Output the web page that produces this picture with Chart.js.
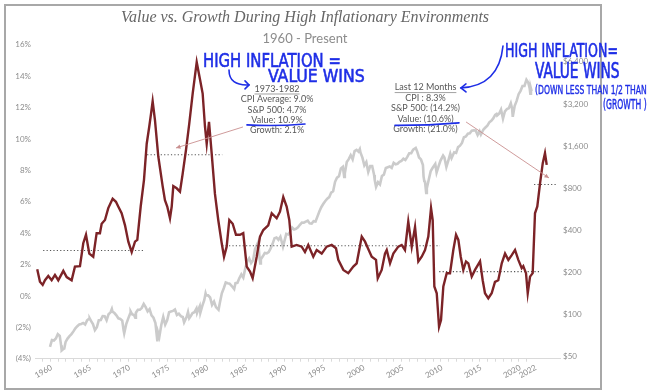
<!DOCTYPE html>
<html>
<head>
<meta charset="utf-8">
<script src="https://cdn.jsdelivr.net/npm/chart.js@4.4.1/dist/chart.umd.min.js"></script>
<style>
  html, body { margin: 0; padding: 0; background: #ffffff; }
  #wrap { position: relative; width: 647px; height: 392px; }
  #frame { position: absolute; left: 4px; top: 4px; width: 594px; height: 382px; border: 2px solid #a8a8a8; }
  canvas { position: absolute; left: 0; top: 0; }
</style>
</head>
<body>
<div id="wrap">
  <div id="frame"></div>
  <canvas id="c" width="647" height="392"></canvas>
</div>
<script>
// ---------------- DATA ----------------
// CPI year-over-year (%), left axis
const cpiYears = [
  1960.88,1961.21,1961.54,1961.82,1962.22,1962.63,1963.03,1963.43,1964.04,1964.45,
  1965.05,1965.45,1966.06,1966.46,1966.79,1967.19,1967.67,1968.08,1968.48,1968.69,
  1969.09,1969.49,1970.02,1970.42,1970.70,1971.11,1971.52,1971.92,1972.33,1972.73,
  1973.01,1973.42,1973.82,1974.15,1974.46,1974.67,1974.87,1975.15,1975.55,1976.08,
  1976.36,1976.64,1976.97,1977.18,1977.37,1977.78,1978.18,1978.51,1978.91,1979.31,
  1979.72,1980.21,1980.61,1980.93,1981.21,1981.42,1981.70,1982.02,1982.42,1982.82,
  1983.24,1983.52,1983.84,1984.16,1984.57,1984.97,1985.45,1985.85,1986.27,1986.67,
  1986.99,1987.48,1987.88,1988.28,1988.88,1989.30,1989.90,1990.30,1990.70,1991.11,
  1991.43,1991.72,1992.33,1992.93,1993.33,1993.73,1994.34,1994.75,1995.36,1995.96,
  1996.57,1997.09,1997.37,1997.98,1998.58,1999.19,1999.60,2000.21,2000.61,2000.88,
  2001.42,2001.94,2002.15,2002.63,2003.03,2003.24,2003.64,2004.04,2004.64,2005.05,
  2005.45,2005.85,2006.27,2006.67,2007.07,2007.48,2007.88,2008.28,2008.61,2008.81,
  2009.01,2009.30,2009.58,2009.82,2010.10,2010.51,2010.91,2011.31,2011.64,2011.92,
  2012.21,2012.52,2012.85,2013.13,2013.54,2013.94,2014.55,2014.87,2015.15,2015.55,
  2015.96,2016.36,2016.76,2017.18,2017.58,2017.98,2018.39,2018.79,2019.19,2019.60,
  2019.79,2020.12,2020.33,2020.61,2020.93,2021.21,2021.49,2021.82,2022.15,2022.42,
  2022.63
];
const cpiValues = [
  1.7,0.9,0.7,1.0,1.27,1.0,1.34,1.0,1.6,1.2,
  1.0,1.87,1.9,3.36,3.9,2.7,2.5,4.0,4.0,4.6,
  4.84,5.6,6.2,6.0,5.7,5.27,4.5,3.46,2.8,3.46,
  3.57,5.7,7.4,9.7,10.8,11.6,12.4,11.2,8.9,7.0,
  6.1,5.7,4.95,5.7,7.0,6.86,6.65,7.8,9.3,11.0,
  12.9,14.9,13.8,12.9,10.8,9.7,11.1,9.1,6.5,4.84,
  3.36,2.5,3.14,4.84,4.6,3.9,3.9,4.0,1.87,1.55,
  1.13,2.5,3.78,4.2,4.5,5.27,4.95,5.37,6.3,5.7,
  4.84,3.14,3.25,3.14,2.8,3.25,2.5,2.93,2.7,3.14,
  3.25,3.04,2.3,1.66,1.45,1.87,2.08,3.78,3.46,3.14,
  2.5,2.3,1.13,1.66,2.7,2.93,2.08,2.7,3.14,3.25,
  2.93,4.74,3.14,4.4,2.2,2.5,2.93,3.78,5.6,4.84,
  0.6,0.17,-1.96,-1.53,0.6,1.45,1.45,2.93,3.9,3.57,
  2.5,1.66,2.2,2.08,1.23,1.66,2.2,1.0,0.17,-0.15,
  0.17,0.9,1.0,2.08,2.7,2.3,2.6,2.93,2.3,1.77,
  1.9,1.45,0.17,1.23,1.45,5.27,5.7,7.18,8.46,9.1,
  8.35
];

// S&P 500 index level, right (log) axis
const spYears = [
  1960.96,1961.21,1961.46,1961.71,1961.96,1962.21,1962.38,1962.46,1962.71,1962.79,1962.96,
  1963.21,1963.46,1963.71,1963.96,1964.21,1964.46,1964.71,1964.96,1965.21,1965.46,1965.71,1965.96,
  1966.04,1966.21,1966.46,1966.71,1966.96,1967.21,1967.46,1967.71,1967.96,
  1968.21,1968.46,1968.71,1968.88,1968.96,1969.21,1969.46,1969.71,1969.96,
  1970.21,1970.38,1970.46,1970.71,1970.96,1971.21,1971.29,1971.46,1971.71,1971.88,1971.96,
  1972.21,1972.46,1972.71,1972.96,1973.21,1973.46,1973.71,1973.96,
  1974.21,1974.46,1974.71,1974.79,1974.96,1975.21,1975.46,1975.71,1975.96,
  1976.21,1976.46,1976.71,1976.96,1977.21,1977.46,1977.71,1977.96,
  1978.13,1978.46,1978.63,1978.79,1978.96,1979.21,1979.46,1979.71,1979.79,1979.96,
  1980.13,1980.21,1980.46,1980.71,1980.88,1980.96,1981.21,1981.46,1981.71,1981.96,
  1982.21,1982.54,1982.71,1982.96,1983.21,1983.46,1983.71,1983.96,
  1984.21,1984.54,1984.71,1984.96,1985.21,1985.46,1985.71,1985.96,
  1986.21,1986.46,1986.71,1986.96,1987.21,1987.63,1987.79,1987.88,1987.96,
  1988.21,1988.46,1988.71,1988.96,1989.21,1989.46,1989.71,1989.96,
  1990.21,1990.46,1990.79,1990.96,1991.21,1991.46,1991.71,1991.96,
  1992.21,1992.46,1992.71,1992.96,1993.21,1993.46,1993.71,1993.96,
  1994.21,1994.46,1994.71,1994.96,1995.21,1995.46,1995.71,1995.96,
  1996.21,1996.46,1996.71,1996.96,1997.21,1997.46,1997.71,1997.96,
  1998.21,1998.46,1998.63,1998.71,1998.96,1999.21,1999.46,1999.71,1999.96,
  2000.21,2000.46,2000.63,2000.71,2000.96,2001.21,2001.46,2001.71,2001.96,
  2002.21,2002.46,2002.54,2002.71,2002.96,2003.21,2003.46,2003.71,2003.96,
  2004.21,2004.46,2004.71,2004.96,2005.21,2005.46,2005.71,2005.96,
  2006.21,2006.46,2006.71,2006.96,2007.21,2007.46,2007.79,2007.96,
  2008.21,2008.46,2008.71,2008.79,2008.88,2008.96,2009.13,2009.21,2009.46,2009.71,2009.96,
  2010.29,2010.46,2010.71,2010.96,2011.29,2011.46,2011.71,2011.96,
  2012.21,2012.38,2012.71,2012.96,2013.21,2013.46,2013.71,2013.96,
  2014.21,2014.46,2014.71,2014.96,2015.21,2015.46,2015.71,2015.96,
  2016.13,2016.46,2016.71,2016.96,2017.21,2017.46,2017.71,2017.96,
  2018.13,2018.21,2018.46,2018.71,2018.96,2019.21,2019.46,2019.71,2019.96,
  2020.13,2020.21,2020.46,2020.71,2020.96,2021.21,2021.46,2021.71,2021.96,
  2022.21,2022.38,2022.46,2022.54,2022.63
];
const spValues = [
  58.1,65.1,64.6,66.7,71.6,69.6,59.6,54.8,56.3,56.5,63.1,
  66.6,69.4,71.7,75.0,79.0,81.7,84.2,84.8,86.2,84.1,90.0,92.4,
  92.9,89.2,84.7,76.6,80.3,90.2,90.6,96.7,96.5,
  90.2,99.6,102.7,108.4,103.9,101.5,97.7,93.1,92.1,
  89.6,76.6,72.7,84.2,92.2,100.3,104.0,99.7,98.3,94.0,102.1,
  107.2,107.1,110.6,118.1,112.0,104.3,108.4,97.6,
  94.0,86.0,63.5,73.9,68.6,83.4,95.2,83.9,90.2,
  102.8,104.3,105.2,107.5,98.4,100.5,96.5,95.1,
  87.0,95.5,103.3,93.2,96.1,101.6,102.9,109.3,101.8,107.9,
  113.7,102.1,114.2,125.5,140.5,135.8,136.0,131.2,116.2,122.6,
  112.0,107.1,120.4,140.6,153.0,168.1,166.1,164.9,
  159.2,150.7,166.1,167.2,180.7,191.9,182.1,211.3,
  238.9,250.8,231.3,242.2,291.7,329.8,251.8,230.3,247.1,
  258.9,273.5,271.9,277.7,294.9,318.0,349.2,353.4,
  339.9,358.0,304.0,330.2,375.2,371.2,387.9,417.1,
  403.7,408.1,417.8,435.7,451.7,450.5,458.9,466.5,
  445.8,444.3,462.7,459.3,500.7,544.8,584.4,615.9,
  645.5,670.6,687.3,740.7,757.1,885.1,947.3,970.4,
  1101.8,1133.8,957.3,1017.0,1229.2,1286.4,1372.7,1282.7,1469.3,
  1498.6,1454.6,1517.7,1436.5,1320.3,1160.3,1224.4,1040.9,1148.1,
  1147.4,989.8,911.6,815.3,879.8,848.2,974.5,996.0,1111.9,
  1126.2,1140.8,1114.6,1211.9,1180.6,1191.3,1228.8,1248.3,
  1294.8,1270.2,1335.9,1418.3,1420.9,1503.4,1549.0,1468.4,
  1322.7,1280.0,1166.4,968.8,896.2,903.3,735.1,797.9,919.3,1057.1,1115.1,
  1186.7,1030.7,1141.2,1257.6,1363.6,1320.6,1131.4,1257.6,
  1408.5,1310.3,1440.7,1426.2,1569.2,1606.3,1681.6,1848.4,
  1872.3,1960.2,1972.3,2058.9,2067.9,2063.1,1920.0,2043.9,
  1932.2,2098.9,2168.3,2238.8,2362.7,2423.4,2519.4,2673.6,
  2713.8,2640.9,2718.4,2914.0,2506.9,2834.4,2941.8,2976.7,3230.8,
  2954.2,2584.6,3100.3,3363.0,3756.1,3972.9,4297.5,4307.5,4766.2,
  4530.4,4132.2,3785.4,4130.3,3955.0
];

// Period average CPI (dotted lines)
const avgStart = [1961.6, 1974.2, 1983.3, 2009.6, 2021.1];
const avgEnd   = [1973.8, 1983.3, 2009.7, 2021.8, 2023.9];
const avgValue = [2.9, 9.0, 3.2, 1.55, 7.1];

// Tick labels
const xTickLabels = [1960,1965,1970,1975,1980,1985,1990,1995,2000,2005,2010,2015,2020,2022];
const leftTicks = [-4,-2,0,2,4,6,8,10,12,14,16];
const rightTicks = [50,100,200,400,800,1600,3200,6400];

// Annotation texts
const leftNote = ['1973-1982','CPI Average: 9.0%','S&P 500: 4.7%','Value: 10.9%','Growth: 2.1%'];
const rightNote = ['Last 12 Months','CPI : 8.3%','S&P 500: (14.2%)','Value: (10.6%)','Growth: (21.0%)'];

// ---------------- CHART ----------------
const RED = '#7c2327';
const GRAY = '#cbcbcb';
const BLUE = '#1e2ee6';
const TICK = '#8c8c8c';

const allYears = [];
for (let y = xTickLabels[0]; y <= xTickLabels[xTickLabels.length - 1]; y++) allYears.push(y);

const datasets = [
  {
    label: 'CPI YoY',
    data: cpiYears.map((x, i) => ({ x, y: cpiValues[i] })),
    xAxisID: 'x2', yAxisID: 'y',
    borderColor: RED, borderWidth: 2.4, pointRadius: 0, tension: 0, order: 0
  },
  {
    label: 'S&P 500',
    data: spYears.map((x, i) => ({ x, y: spValues[i] })),
    xAxisID: 'x', yAxisID: 'y2',
    borderColor: GRAY, borderWidth: 2.6, pointRadius: 0, tension: 0, order: 2
  }
];
avgValue.forEach((v, i) => {
  datasets.push({
    label: 'avg' + i,
    data: [{ x: avgStart[i], y: v }, { x: avgEnd[i], y: v }],
    xAxisID: 'x2', yAxisID: 'y',
    borderColor: '#555555', borderWidth: 1.1, borderDash: [1.2, 2.2],
    pointRadius: 0, order: 1
  });
});

function arrowTo(ctx, x1, y1, x2, y2, color, lw, head) {
  ctx.strokeStyle = color; ctx.fillStyle = color; ctx.lineWidth = lw;
  ctx.beginPath(); ctx.moveTo(x1, y1); ctx.lineTo(x2, y2); ctx.stroke();
  const a = Math.atan2(y2 - y1, x2 - x1);
  ctx.beginPath();
  ctx.moveTo(x2, y2);
  ctx.lineTo(x2 - head * Math.cos(a - 0.45), y2 - head * Math.sin(a - 0.45));
  ctx.lineTo(x2 - head * Math.cos(a + 0.45), y2 - head * Math.sin(a + 0.45));
  ctx.closePath(); ctx.fill();
}

function hand(ctx, text, x, y, size, sy) {
  ctx.save();
  ctx.translate(x, y); ctx.scale(1, sy);
  ctx.font = size + 'px "DejaVu Sans Condensed", "DejaVu Sans"';
  ctx.fillStyle = BLUE; ctx.strokeStyle = BLUE; ctx.lineWidth = size * 0.03;
  ctx.textAlign = 'left'; ctx.textBaseline = 'alphabetic';
  ctx.fillText(text, 0, 0); ctx.strokeText(text, 0, 0);
  ctx.restore();
}

const annotations = {
  id: 'annotations',
  afterDatasetsDraw(chart) {
    const ctx = chart.ctx;
    const X = chart.scales.x, Y = chart.scales.y;
    const P = (x, y) => [X.getPixelForValue(x), Y.getPixelForValue(y)];
    ctx.save();

    // Text blocks
    const block = (lines, x, y) => {
      const [cx, cy] = P(x, y);
      ctx.font = '9px Lato';
      ctx.textAlign = 'center'; ctx.textBaseline = 'middle';
      lines.forEach((t, i) => {
        const ly = cy + i * 10.4;
        ctx.fillStyle = '#575757';
        ctx.fillText(t, cx, ly);
        if (i === 0) {
          const w = ctx.measureText(t).width;
          ctx.strokeStyle = '#8a8a8a'; ctx.lineWidth = 0.8;
          ctx.beginPath(); ctx.moveTo(cx - w / 2, ly + 5); ctx.lineTo(cx + w / 2, ly + 5); ctx.stroke();
        }
      });
    };
    block(leftNote, 1990.03, 13.19);
    block(rightNote, 2009.04, 13.28);

    // Salmon pointer arrows
    let a = P(1985.67, 10.77), b = P(1977.09, 9.43);
    arrowTo(ctx, a[0], a[1], b[0], b[1], '#c99090', 0.9, 5);
    a = P(2014.23, 11.09); b = P(2024.85, 7.52);
    arrowTo(ctx, a[0], a[1], b[0], b[1], '#c99090', 0.9, 5);

    // Handwritten notes
    let p = P(1980.55, 14.57); hand(ctx, 'HIGH INFLATION =', p[0], p[1], 16.5, 1.15);
    p = P(1988.87, 13.64); hand(ctx, 'VALUE WINS', p[0], p[1], 17.5, 1.0);
    p = P(2019.22, 15.23); hand(ctx, 'HIGH INFLATION=', p[0], p[1], 14, 1.4);
    p = P(2023.06, 13.89); hand(ctx, 'VALUE WINS', p[0], p[1], 15.3, 1.35);
    p = P(2023.06, 12.87); hand(ctx, '(DOWN LESS THAN 1/2 THAN', p[0], p[1], 8.5, 1.5);
    p = P(2031.77, 11.92); hand(ctx, '(GROWTH )', p[0], p[1], 8.5, 1.6);

    // Blue curved arrows
    ctx.strokeStyle = BLUE; ctx.lineWidth = 1.6; ctx.lineCap = 'round';
    const curve = (s, c, e) => {
      const S = P(s[0], s[1]), C = P(c[0], c[1]), E = P(e[0], e[1]);
      ctx.beginPath(); ctx.moveTo(S[0], S[1]); ctx.quadraticCurveTo(C[0], C[1], E[0], E[1]); ctx.stroke();
      return [C, E];
    };
    let [c1, e1] = curve([1983.88, 14.40], [1983.88, 13.38], [1986.44, 13.45]);
    ctx.beginPath(); ctx.moveTo(e1[0] - 4, e1[1] - 4); ctx.lineTo(e1[0], e1[1]); ctx.lineTo(e1[0] - 4, e1[1] + 4); ctx.stroke();
    let [c2, e2] = curve([2018.96, 15.93], [2018.45, 13.38], [2013.58, 13.26]);
    ctx.beginPath(); ctx.moveTo(e2[0] + 5, e2[1] - 4); ctx.lineTo(e2[0], e2[1]); ctx.lineTo(e2[0] + 5, e2[1] + 4); ctx.stroke();

    // Blue underlines
    curve([1986.18, 10.90], [1989.9, 10.80], [1993.61, 10.96]);
    curve([2005.13, 10.87], [2009.2, 10.86], [2013.33, 11.03]);

    ctx.restore();
  }
};

new Chart(document.getElementById('c'), {
  type: 'line',
  data: { datasets },
  plugins: [annotations],
  options: {
    responsive: false,
    animation: false,
    events: [],
    layout: { padding: { top: 8, left: 10, right: 47, bottom: 0 } },
    plugins: {
      legend: { display: false },
      tooltip: { enabled: false },
      title: {
        display: true,
        text: 'Value vs. Growth During High Inflationary Environments',
        color: '#666666',
        font: { family: '"Liberation Serif", serif', style: 'italic', weight: 'normal', size: 16, lineHeight: 1.2 },
        padding: { top: 0, bottom: 0 }
      },
      subtitle: {
        display: true,
        text: '1960 - Present',
        color: '#8c8c8c',
        font: { family: 'Lato', size: 13, weight: 'normal', lineHeight: 0.9 },
        padding: { top: 6, bottom: 0 }
      }
    },
    scales: {
      x: {
        type: 'linear', position: 'bottom',
        min: 1959.04, max: 2026.26,
        afterBuildTicks: s => { s.ticks = allYears.map(v => ({ value: v })); },
        afterFit: s => { s.height = 33.3; },
        ticks: {
          autoSkip: false, minRotation: 30, maxRotation: 30,
          labelOffset: 9, padding: 1,
          color: TICK, font: { family: 'Lato', size: 8 },
          callback: v => (xTickLabels.includes(v) ? String(v) : '')
        },
        grid: { drawOnChartArea: false, drawTicks: true, tickLength: 3, color: '#dadada' },
        border: { display: true, color: '#dadada' }
      },
      x2: {
        type: 'linear', display: false,
        min: 1960.61, max: 2024.24
      },
      y: {
        type: 'linear', position: 'left',
        min: -4, max: 16,
        afterBuildTicks: s => { s.ticks = leftTicks.map(v => ({ value: v })); },
        afterFit: s => { s.width = 25; },
        ticks: {
          padding: 4, color: TICK, font: { family: 'Lato', size: 8 },
          callback: v => (v < 0 ? '(' + Math.abs(v) + '%)' : v + '%')
        },
        grid: { display: false, drawTicks: false },
        border: { display: false }
      },
      y2: {
        type: 'logarithmic', position: 'right',
        min: 47.8, max: 8475,
        afterBuildTicks: s => { s.ticks = rightTicks.map(v => ({ value: v })); },
        afterFit: s => { s.width = 40; },
        ticks: {
          padding: 3, color: TICK, font: { family: 'Lato', size: 8 },
          callback: v => '$' + Number(v).toLocaleString('en-US')
        },
        grid: { display: false, drawTicks: false },
        border: { display: false }
      }
    }
  }
});
</script>
</body>
</html>
